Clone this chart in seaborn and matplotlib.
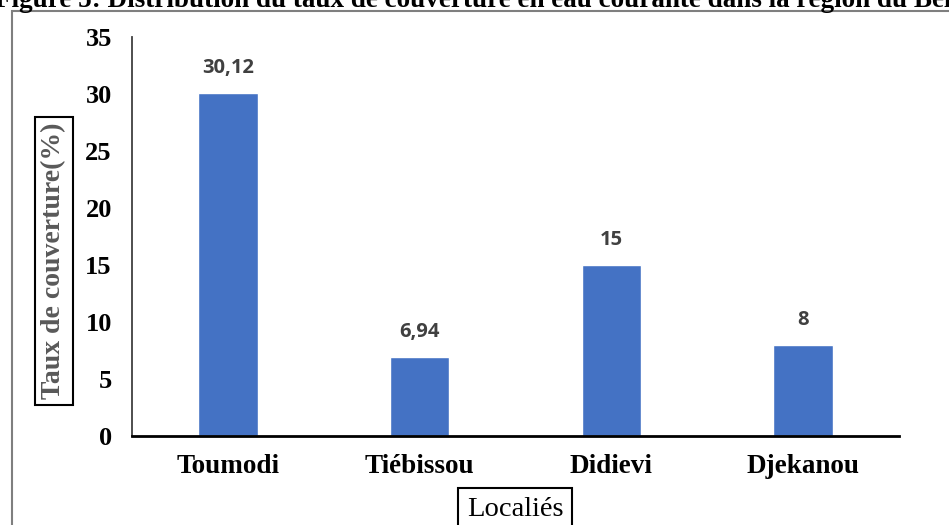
import matplotlib
matplotlib.use("Agg")
import matplotlib.pyplot as plt
import seaborn as sns
import pandas as pd
from matplotlib.patches import Rectangle

categories = ["Toumodi", "Tiébissou", "Didievi", "Djekanou"]
values = [30.12, 6.94, 15, 8]
value_labels = ["30,12", "6,94", "15", "8"]
yticks = [0, 5, 10, 15, 20, 25, 30, 35]

title = "Figure 5: Distribution du taux de couverture en eau courante dans la région du Bélier"
ylabel = "Taux de couverture(%)"
xlabel = "Localiés"

sns.set_theme(style="white")
plt.rcParams["font.family"] = ["Liberation Serif", "DejaVu Serif"]

W, H = 949, 525
fig = plt.figure(figsize=(W / 100, H / 100), dpi=100)
fig.patch.set_facecolor("white")

ax_left, ax_right, ax_top, ax_bottom = 132, 899, 37, 436
ax = fig.add_axes([ax_left / W, 1 - ax_bottom / H, (ax_right - ax_left) / W, (ax_bottom - ax_top) / H])

df = pd.DataFrame({"loc": categories, "val": values})
sns.barplot(data=df, x="loc", y="val", color="#4472C4", width=0.31, saturation=1, ax=ax)

ax.set_ylim(0, 35)
ax.set_xlim(-0.5, len(categories) - 0.5)
ax.set_yticks(yticks)
ax.set_yticklabels([str(t) for t in yticks], fontsize=19, fontweight="bold", color="black")
ax.set_xticks(range(len(categories)))
ax.set_xticklabels(categories, fontsize=19.5, fontweight="bold", color="black")
ax.tick_params(axis="y", length=0, pad=14.5)
ax.tick_params(axis="x", length=0, pad=13)
ax.set_xlabel("")
ax.set_ylabel("")
for s in ["top", "right"]:
    ax.spines[s].set_visible(False)
ax.spines["left"].set_color("#404040")
ax.spines["left"].set_linewidth(1.3)
ax.spines["bottom"].set_color("black")
ax.spines["bottom"].set_linewidth(2)
ax.grid(False)

for i, (v, lab) in enumerate(zip(values, value_labels)):
    ax.annotate(lab, (i, v), xytext=(0, 18), textcoords="offset points",
                ha="center", va="center", fontsize=14.5, fontweight="bold",
                color="#404040", family=["Open Sans", "DejaVu Sans"])

# outer frame (gray)
fig.add_artist(Rectangle((12 / W, -0.1), 1.2, 1 - 11 / H + 0.1, transform=fig.transFigure,
                         fill=False, edgecolor="#7f7f7f", linewidth=1.5))

# clipped title at top
fig.text(-5 / W, 1 - 7 / H, title, ha="left", va="baseline", fontsize=19.5,
         fontweight="bold", color="black")

# y label in box
fig.text(54 / W, 1 - 261 / H, ylabel, rotation=90, ha="center", va="center",
         fontsize=20, fontweight="bold", color="#595959",
         bbox=dict(boxstyle="square,pad=0.22", facecolor="white", edgecolor="black", linewidth=1.5))

# x label in box
fig.text(515 / W, 1 - 509 / H, xlabel, ha="center", va="center", fontsize=20.5,
         color="black",
         bbox=dict(boxstyle="square,pad=0.3", facecolor="white", edgecolor="black", linewidth=1.5))

fig.savefig("out.png", dpi=100)
